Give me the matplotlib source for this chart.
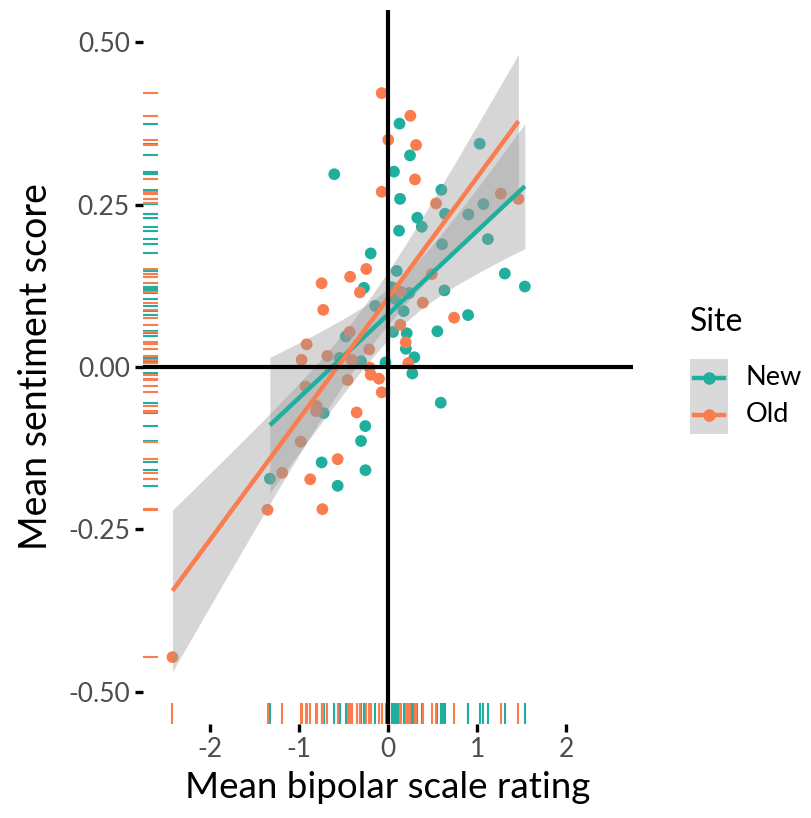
import numpy as np
import matplotlib
matplotlib.use("Agg")
import matplotlib.pyplot as plt
from matplotlib.lines import Line2D
from matplotlib.patches import Rectangle

plt.rcParams['font.family'] = ['Lato', 'DejaVu Sans']
plt.rcParams['axes.unicode_minus'] = False

# data: mean bipolar scale rating (x) and mean sentiment score (y) per site
new_x = [0.129, -0.603, 0.067, 0.135, 0.124, -0.194, -0.270, 0.098, 0.247, 1.030,
         0.599, 0.640, 0.329, 0.379, 0.902, 1.071, 1.121, 0.607, 1.311, 1.536,
         0.633, 0.239, 0.079, 0.176, -0.144, 0.899, 0.056, 0.210, 0.554, 0.200,
         0.296, -0.028, 0.273, 0.592, -0.474, -0.544, -0.303, -0.722, -0.255, -0.303,
         -0.745, -0.253, -0.565, -1.326, 0.042]
new_y = [0.375, 0.297, 0.301, 0.259, 0.210, 0.175, 0.122, 0.148, 0.326, 0.344,
         0.273, 0.236, 0.230, 0.216, 0.235, 0.251, 0.197, 0.189, 0.144, 0.124,
         0.118, 0.114, 0.105, 0.086, 0.094, 0.080, 0.054, 0.052, 0.055, 0.028,
         0.015, 0.007, -0.010, -0.055, 0.047, 0.014, 0.009, -0.071, -0.091, -0.114,
         -0.147, -0.159, -0.183, -0.172, 0.123]

old_x = [-0.071, 0.003, -0.071, -0.244, -0.425, -0.745, 0.251, 0.315, 0.303, 0.539,
         1.266, 1.464, 0.491, 0.143, 0.390, 0.742, 0.138, 0.199, 0.228, -0.101,
         -0.071, -0.315, -0.727, -0.431, -0.913, -0.970, -0.680, -0.408, -0.211, -0.206,
         -0.194, -0.453, -0.925, -0.801, -0.809, -0.352, -0.980, -0.565, -0.873, -1.188,
         -1.352, -0.736, -2.419]
old_y = [0.422, 0.350, 0.270, 0.151, 0.139, 0.129, 0.387, 0.342, 0.289, 0.252,
         0.267, 0.259, 0.143, 0.116, 0.099, 0.076, 0.065, 0.038, 0.006, -0.018,
         -0.039, 0.115, 0.088, 0.054, 0.035, 0.011, 0.017, 0.011, 0.027, -0.001,
         -0.012, -0.020, -0.030, -0.060, -0.068, -0.070, -0.115, -0.142, -0.173, -0.163,
         -0.220, -0.219, -0.447]

sites = ["New", "Old"]
colors = {"New": "#1FAF9F", "Old": "#F97D4E"}
data = {"New": (np.array(new_x), np.array(new_y)),
        "Old": (np.array(old_x), np.array(old_y))}

xticks = [-2, -1, 0, 1, 2]
xtick_labels = ["-2", "-1", "0", "1", "2"]
yticks = [-0.5, -0.25, 0.0, 0.25, 0.5]
ytick_labels = ["-0.50", "-0.25", "0.00", "0.25", "0.50"]

W, H = 811, 818
fig = plt.figure(figsize=(W / 100, H / 100), dpi=100)
ax = fig.add_axes([143 / W, (H - 724) / H, (633 - 143) / W, (724 - 10) / H])

# points
for s in sites:
    x, y = data[s]
    ax.scatter(x, y, s=72, color=colors[s], edgecolors='none', zorder=2)

# linear fit with 95% band
for s in sites:
    x, y = data[s]
    n = len(x)
    b, a = np.polyfit(x, y, 1)
    xs = np.linspace(x.min(), x.max(), 80)
    fit = a + b * xs
    resid = y - (a + b * x)
    sd = np.sqrt(np.sum(resid ** 2) / (n - 2))
    se = sd * np.sqrt(1 / n + (xs - x.mean()) ** 2 / np.sum((x - x.mean()) ** 2))
    t = 2.018
    ax.fill_between(xs, fit - t * se, fit + t * se, color='#999999', alpha=0.4,
                    linewidth=0, zorder=3)
    ax.plot(xs, fit, color=colors[s], lw=3.2, zorder=4, solid_capstyle='butt')

# rugs
for s in sites:
    x, y = data[s]
    ax.vlines(x, 0, 0.03, transform=ax.get_xaxis_transform(), color=colors[s], lw=1.5, zorder=5)
    ax.hlines(y, 0, 0.03, transform=ax.get_yaxis_transform(), color=colors[s], lw=1.5, zorder=5)

ax.axhline(0, color='black', lw=3, zorder=6)
ax.axvline(0, color='black', lw=3, zorder=6)

ax.set_xlim(-2.75, 2.75)
ax.set_ylim(-0.55, 0.55)
ax.set_xticks(xticks)
ax.set_xticklabels(xtick_labels)
ax.set_yticks(yticks)
ax.set_yticklabels(ytick_labels)
for sp in ax.spines.values():
    sp.set_visible(False)
ax.tick_params(length=5.5, width=2.4, color='black', labelcolor='#4D4D4D',
               labelsize=19, pad=4)
ax.set_xlabel("Mean bipolar scale rating", fontsize=26.5, labelpad=6)
ax.set_ylabel("Mean sentiment score", fontsize=27, labelpad=10)

# legend
fig.text(690 / W, 1 - 322 / H, "Site", fontsize=23, va='center', ha='left')
fig.patches.append(Rectangle((690 / W, 1 - 434 / H), 38 / W, 75 / H,
                             transform=fig.transFigure, facecolor='#D9D9D9',
                             edgecolor='none'))
for i, s in enumerate(sites):
    yy = 1 - (378 + 37 * i) / H
    fig.lines.append(Line2D([694 / W, 724 / W], [yy, yy], transform=fig.transFigure,
                            color=colors[s], lw=3.2))
    fig.lines.append(Line2D([709 / W], [yy], transform=fig.transFigure,
                            color=colors[s], marker='o', markersize=8, lw=0))
    fig.text(746 / W, yy, s, fontsize=19.5, va='center', ha='left')

fig.savefig("out.png", dpi=100)
